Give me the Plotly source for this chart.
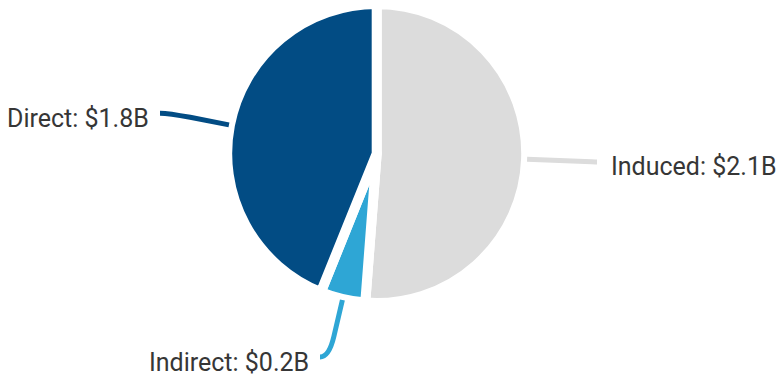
import math
import plotly.graph_objects as go

# ---- data ----
labels = ["Induced", "Indirect", "Direct"]
values = [2.1, 0.2, 1.8]
colors = ["#DCDCDC", "#2EA6D5", "#024C84"]

# ---- layout constants (page pixels) ----
W, H = 779, 379
CX, CY, R = 376.7, 153.5, 149.5
BORDER = 10
# leader geometry per slice: radius where bend starts, corner radius, x end of leader
leader = {
    "Induced": dict(r1=215, r2=220, xend=597),
    "Indirect": dict(r1=188, r2=209, xend=320),
    "Direct": dict(r1=190, r2=212, xend=160),
}
GAP_RIGHT = 12
GAP_LEFT = 9
TEXT_DY = 5

def px2paper(x, y):
    return x / W, 1 - y / H

fig = go.Figure()
dx0, dy1 = px2paper(CX - R, CY - R)
dx1, dy0 = px2paper(CX + R, CY + R)
fig.add_trace(go.Pie(
    labels=labels, values=values, sort=False, direction="clockwise", rotation=0,
    marker=dict(colors=colors, line=dict(color="white", width=BORDER)),
    textinfo="none", hoverinfo="label+value", showlegend=False,
    domain=dict(x=[dx0, dx1], y=[dy0, dy1]),
))

total = sum(values)
cum = 0.0
shapes = []
annotations = []
for lab, val, col in zip(labels, values, colors):
    mid = (cum + val / 2) / total * 2 * math.pi
    cum += val
    ux, uy = math.sin(mid), -math.cos(mid)
    g = leader[lab]
    p0 = (CX + (R + 1) * ux, CY + (R + 1) * uy)
    p1 = (CX + g["r1"] * ux, CY + g["r1"] * uy)
    p2 = (CX + g["r2"] * ux, CY + g["r2"] * uy)
    pe = (g["xend"], p2[1])
    pts = [px2paper(*p) for p in (p0, p1, p2, pe)]
    path = "M {} {} L {} {} Q {} {} {} {}".format(
        pts[0][0], pts[0][1], pts[1][0], pts[1][1], pts[2][0], pts[2][1], pts[3][0], pts[3][1])
    shapes.append(dict(type="path", xref="paper", yref="paper", path=path,
                       line=dict(color=col, width=5), layer="above"))
    right = ux > 0
    tx = g["xend"] + (GAP_RIGHT if right else -GAP_LEFT)
    ty = pe[1] + TEXT_DY
    ax, ay = px2paper(tx, ty)
    annotations.append(dict(
        x=ax, y=ay, xref="paper", yref="paper", showarrow=False,
        text=f"{lab}: ${val}B", xanchor="left" if right else "right", yanchor="middle",
        font=dict(family="Roboto", size=25, color="#363636"),
    ))

fig.update_layout(
    width=W, height=H, autosize=False,
    margin=dict(l=0, r=0, t=0, b=0),
    paper_bgcolor="white", plot_bgcolor="white",
    shapes=shapes, annotations=annotations,
)
fig.write_html("out.html", config={"displayModeBar": False},
               post_script="document.body.style.margin='0';")
